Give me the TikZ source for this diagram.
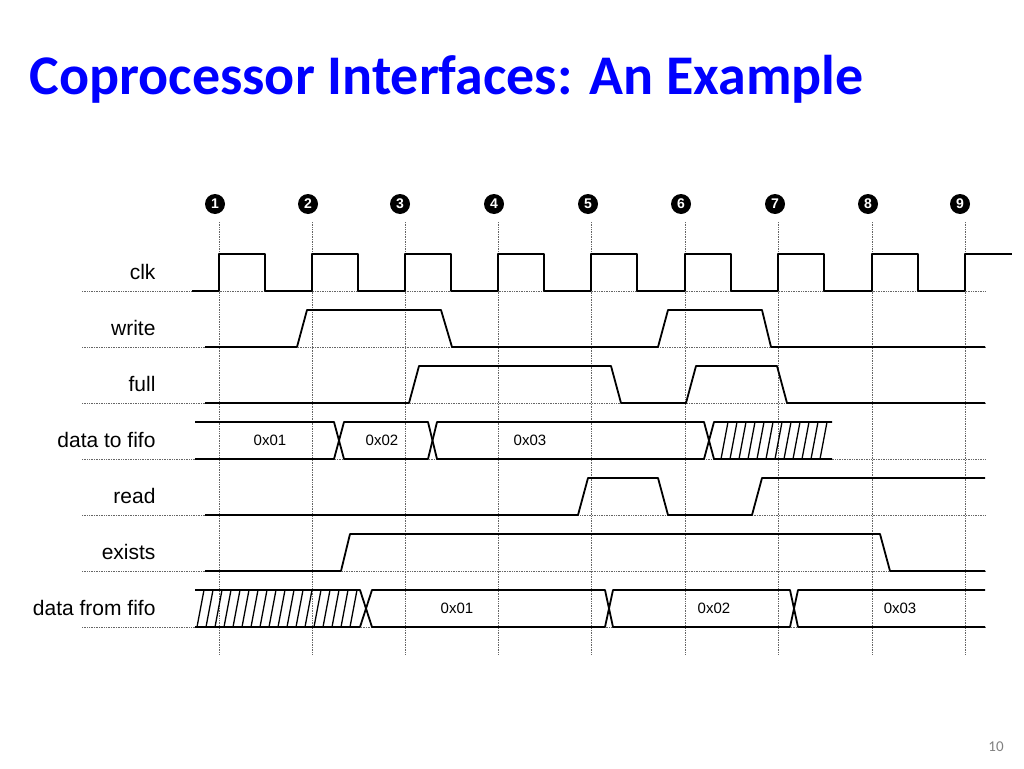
\documentclass[tikz,border=0pt]{standalone}
\usepackage{fontspec}
\setmainfont{Liberation Sans}
\newfontfamily\titlefont{Carlito}
\begin{document}
\begin{tikzpicture}[x=1pt,y=-1pt,
  sig/.style={line width=1.8pt,line join=round},
  grid/.style={densely dotted,gray!80!black,line width=0.7pt},
  lbl/.style={anchor=east,font=\fontsize{21}{21}\selectfont},
  val/.style={font=\fontsize{15}{15}\selectfont},
  num/.style={circle,fill=black,inner sep=0pt,minimum size=20pt,text=white,font=\bfseries\fontsize{14}{14}\selectfont}]
\useasboundingbox (0,0) rectangle (1024,768);
\node[anchor=base west,text=blue,font=\titlefont\bfseries\fontsize{56}{56}\selectfont] (title) at (26,94) {Coprocessor Interfaces: An Example};
\node[text=gray,font=\titlefont\fontsize{15}{15}\selectfont] (pg) at (996,747) {10};
% grid
\foreach \x/\n/\cx in {219/1/215,312/2/308,405/3/400,498/4/494,591/5/588,685/6/681,778/7/775,872/8/868,965/9/960}{
  \draw[grid] (\x,222) -- (\x,655);
  \node[num] (n\n) at (\cx,204) {\n};
}
\foreach \y in {291,347,403,459,515,571,627}{\draw[grid] (82,\y) -- (985,\y);}
% labels
\node[lbl] (lclk) at (159,272) {clk};
\node[lbl] (lwr) at (159,328) {write};
\node[lbl] (lfull) at (159,384) {full};
\node[lbl] (ldtf) at (159,440) {data to fifo};
\node[lbl] (lrd) at (159,496) {read};
\node[lbl] (lex) at (159,552) {exists};
\node[lbl] (ldff) at (159,608) {data from fifo};
% clk
\draw[sig] (192,291) \foreach \x in {219,312,405,498,591,685,778,872}{ -- (\x,291) -- (\x,254) -- (\x+46,254) -- (\x+46,291)} -- (965,291) -- (965,254) -- (1012,254);
% write
\draw[sig] (205,347) -- (297,347) -- (307,310) -- (441,310) -- (452,347) -- (658,347) -- (668,310) -- (762,310) -- (771,347) -- (985,347);
% full
\draw[sig] (205,403) -- (409,403) -- (419,366) -- (611,366) -- (621,403) -- (686,403) -- (696,366) -- (777,366) -- (787,403) -- (985,403);
% data to fifo
\draw[sig] (195,422) -- (334,422) -- (344,459) -- (428,459) -- (437,422) -- (704,422) -- (714,459) -- (832,459);
\draw[sig] (195,459) -- (334,459) -- (344,422) -- (428,422) -- (437,459) -- (704,459) -- (714,422) -- (832,422);
\foreach \x in {721,730,...,826}{\draw[line width=1.3pt] (\x,459) -- (\x+7,422);}
\node[val] (d1) at (270,440) {0x01};
\node[val] (d2) at (382,440) {0x02};
\node[val] (d3) at (530,440) {0x03};
% read
\draw[sig] (205,515) -- (578,515) -- (588,478) -- (658,478) -- (668,515) -- (752,515) -- (762,478) -- (985,478);
% exists
\draw[sig] (205,571) -- (341,571) -- (350,534) -- (880,534) -- (890,571) -- (985,571);
% data from fifo
\draw[sig] (195,590) -- (360,590) -- (372,627) -- (605,627) -- (613,590) -- (790,590) -- (798,627) -- (985,627);
\draw[sig] (195,627) -- (360,627) -- (372,590) -- (605,590) -- (613,627) -- (790,627) -- (798,590) -- (985,590);
\foreach \x in {197,206,...,352}{\draw[line width=1.3pt] (\x,627) -- (\x+7,590);}
\node[val] (f1) at (457,608) {0x01};
\node[val] (f2) at (714,608) {0x02};
\node[val] (f3) at (900,608) {0x03};
\end{tikzpicture}
\end{document}
